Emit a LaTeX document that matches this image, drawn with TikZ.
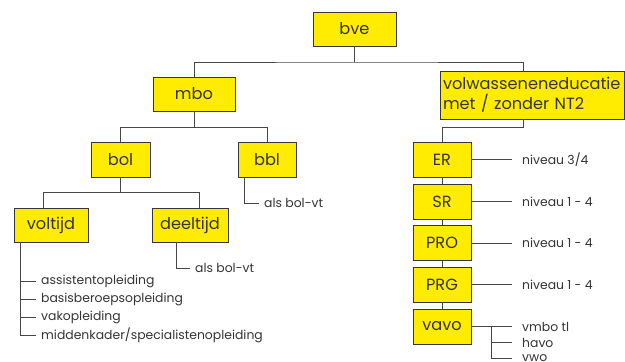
\documentclass[tikz,border=0pt]{standalone}
\usepackage{fontspec}
\setmainfont{Poppins}
\usepackage{tikz}
\usetikzlibrary{positioning,calc}
\definecolor{boxYellow}{RGB}{255, 236, 0}
\definecolor{boxLine}{RGB}{55, 55, 55}
\definecolor{treeGray}{RGB}{70, 70, 70}
\definecolor{textGray}{RGB}{51, 51, 51}

\begin{document}
\begin{tikzpicture}[x=1pt,y=-1pt,
        unit/.style={fill=boxYellow,draw=boxLine,line width=0.9pt,inner sep=2pt,
                     minimum height=34pt,text=textGray,font=\fontsize{16.2}{19}\selectfont},
        note/.style={anchor=west,inner sep=0pt,text=textGray,font=\fontsize{12.4}{14}\selectfont},
        branch/.style={draw=treeGray,line width=0.8pt}
    ]
        \useasboundingbox (0,0) rectangle (625,362);

        % top level
        \node[unit,minimum width=83pt] (bve) at (354.5,29) {bve};
        \node[unit,minimum width=82pt] (mbo) at (194,94) {mbo};
        \node[unit,minimum width=184pt,minimum height=48pt,align=left,text width=178pt,
              font=\fontsize{16.2}{20}\selectfont] (volw) at (532,95)
              {volwasseneneducatie\\met / zonder NT2};

        % mbo branch
        \node[unit,minimum width=59pt,minimum height=35pt] (bol) at (120.5,159.5) {bol};
        \node[unit,minimum width=58pt,minimum height=35pt] (bbl) at (267,159.5) {bbl};
        \node[unit,minimum width=74pt] (voltijd) at (51,225) {voltijd};
        \node[unit,minimum width=76pt] (deeltijd) at (190,225) {deeltijd};

        % volwasseneneducatie branch
        \node[unit,minimum width=58pt,minimum height=35pt] (er) at (442,159.5) {ER};
        \node[unit,minimum width=58pt,minimum height=35pt] (sr) at (442,201.5) {SR};
        \node[unit,minimum width=58pt,minimum height=35pt] (pro) at (442,243) {PRO};
        \node[unit,minimum width=58pt,minimum height=35pt] (prg) at (442,284.5) {PRG};
        \node[unit,minimum width=58pt,minimum height=35pt] (vavo) at (442,326.5) {vavo};

        % notes
        \node[note] (bblnote) at (264,203) {als bol-vt};
        \node[note] (dtnote) at (195,268) {als bol-vt};
        \node[note] (vt1) at (41,281) {assistentopleiding};
        \node[note] (vt2) at (41,299) {basisberoepsopleiding};
        \node[note] (vt3) at (41,317) {vakopleiding};
        \node[note] (vt4) at (41,335) {middenkader/specialistenopleiding};
        \node[note] (ernote) at (522,160) {niveau 3/4};
        \node[note] (srnote) at (522,201.5) {niveau 1 - 4};
        \node[note] (pronote) at (522,243) {niveau 1 - 4};
        \node[note] (prgnote) at (522,284.5) {niveau 1 - 4};
        \node[note] (vmbo) at (522,326.5) {vmbo tl};
        \node[note] (havo) at (522,342.5) {havo};
        \node[note] (vwo) at (522,358.5) {vwo};

        % junctions
        \coordinate (bvejoin) at (354.5,62);
        \coordinate (volwtop) at (523,71);
        \coordinate (volwbot) at (523,119);
        \coordinate (vavojoin) at (491,326.5);

        % connectors
        \draw[branch] (bve.south) -- (bvejoin);
        \draw[branch] (mbo.north) |- (bvejoin) -| (volwtop);
        \draw[branch] (mbo.south) -- ++(0,16) -| (bol.north);
        \draw[branch] (mbo.south) -- ++(0,16) -| (bbl.north);
        \draw[branch] (bol.south) -- ++(0,15) -| ([xshift=-8pt]voltijd.north);
        \draw[branch] (bol.south) -- ++(0,15) -| ([xshift=9pt]deeltijd.north);
        \draw[branch] (volwbot) -- ++(0,8) -| (er.north);
        \draw[branch] (er) -- (sr) -- (pro) -- (prg) -- (vavo);

        \draw[branch] ([xshift=-23pt]bbl.south) |- ([xshift=-5pt]bblnote.west);
        \draw[branch] ([xshift=-14pt]deeltijd.south) |- ([xshift=-5pt]dtnote.west);
        \draw[branch] ([xshift=7pt]voltijd.south west) |- ([xshift=-5pt]vt4.west);
        \foreach \i in {1,2,3}
            \draw[branch] ([xshift=-20pt]vt\i.west) -- ([xshift=-5pt]vt\i.west);

        \foreach \b/\n in {er/ernote,sr/srnote,pro/pronote,prg/prgnote,vavo/vmbo}
            \draw[branch] (\b.east) -- ([xshift=-10pt]\n.west |- \b.east);
        \draw[branch] (vavojoin) |- ([xshift=-10pt]havo.west);
        \draw[branch] (vavojoin) |- ([xshift=-10pt]vwo.west);
\end{tikzpicture}
\end{document}
